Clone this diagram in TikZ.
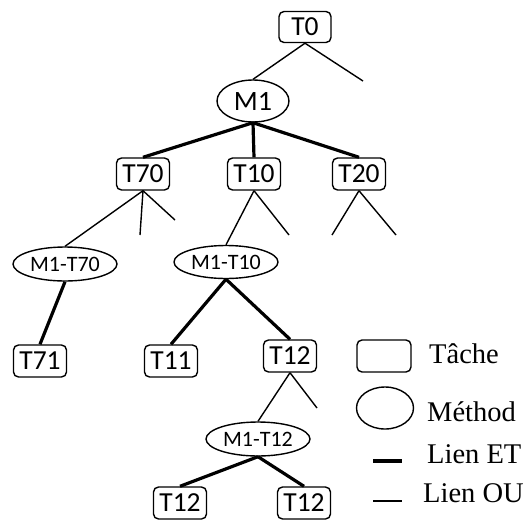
\documentclass[tikz,border=0pt]{standalone}
\usepackage{fontspec}
\setmainfont{Carlito}
\newfontfamily\legendfont{Liberation Serif}
\usetikzlibrary{shapes.geometric}

\begin{document}
\begin{tikzpicture}[x=1pt, y=-1pt,
    task/.style={draw, rounded corners=5pt, line width=1.4pt, minimum width=53pt,
      minimum height=32pt, inner sep=0pt, font=\fontsize{27.5}{29}\selectfont},
    method/.style={draw, ellipse, line width=1.4pt, minimum width=104pt,
      minimum height=34pt, inner sep=0pt, font=\fontsize{22}{24}\selectfont},
    andlink/.style={line width=3.2pt},
    orlink/.style={line width=1.4pt},
    legend/.style={anchor=base west, inner sep=0pt, font=\legendfont\fontsize{28.5}{30}\selectfont}]
  \useasboundingbox (0,0) rectangle (528,520);

  % Tree: tasks and methods
  \node[task, minimum width=52pt, minimum height=31pt] (t0) at (305,27) {T0};
  \node[method, minimum width=72pt, minimum height=42pt, font=\fontsize{28}{30}\selectfont] (m1) at (253,101) {M1};
  \node[task] (t70) at (143,174) {T70};
  \node[task] (t10) at (254,174) {T10};
  \node[task] (t20) at (359,174) {T20};
  \node[method] (m1t70) at (65,264) {M1-T70};
  \node[method, minimum height=33pt] (m1t10) at (226,262) {M1-T10};
  \node[task] (t71) at (40,361) {T71};
  \node[task] (t11) at (171,361) {T11};
  \node[task] (t12) at (290,356) {T12};
  \node[method] (m1t12) at (258,439) {M1-T12};
  \node[task] (t12a) at (180,503) {T12};
  \node[task] (t12b) at (304,503) {T12};

  % Free ends of OR links
  \coordinate (t0r) at (363,81);
  \coordinate (t70m) at (140,235);
  \coordinate (t70r) at (175,220);
  \coordinate (t10r) at (289,235);
  \coordinate (t20l) at (332,235);
  \coordinate (t20r) at (396,235);
  \coordinate (t12r) at (317,408);

  % OR links
  \draw[orlink] (t0.south) -- (m1.north);
  \draw[orlink] (t0.south) -- (t0r);
  \draw[orlink] (t70.south) -- (m1t70.north);
  \draw[orlink] (t70.south) -- (t70m);
  \draw[orlink] (t70.south) -- (t70r);
  \draw[orlink] (t10.south) -- (m1t10.north);
  \draw[orlink] (t10.south) -- (t10r);
  \draw[orlink] (t20.south) -- (t20l);
  \draw[orlink] (t20.south) -- (t20r);
  \draw[orlink] (t12.south) -- (m1t12.north);
  \draw[orlink] (t12.south) -- (t12r);

  % AND links
  \draw[andlink] (m1.south) -- (t70.north);
  \draw[andlink] (m1.south) -- (t10.north);
  \draw[andlink] (m1.south) -- (t20.north);
  \draw[andlink] (m1t70.south) -- (t71.north);
  \draw[andlink] (m1t10.south) -- (t11.north);
  \draw[andlink] (m1t10.south) -- (t12.north);
  \draw[andlink] (m1t12.south) -- (t12a.north);
  \draw[andlink] (m1t12.south) -- (t12b.north);

  % Legend
  \node[task, minimum width=54pt] (keytask) at (384,356) {};
  \node[legend] (keytasktxt) at (429,363) {Tâche};
  \node[method, minimum width=57pt, minimum height=42pt] (keymethod) at (385,408) {};
  \node[legend] (keymethodtxt) at (427,421) {Méthod};
  \coordinate (keyandl) at (373,461);
  \coordinate (keyandr) at (402,461);
  \draw[andlink] (keyandl) -- (keyandr);
  \node[legend] (keyandtxt) at (427,463) {Lien ET};
  \coordinate (keyorl) at (373,501);
  \coordinate (keyorr) at (402,501);
  \draw[orlink] (keyorl) -- (keyorr);
  \node[legend] (keyortxt) at (423,502) {Lien OU};
\end{tikzpicture}
\end{document}
